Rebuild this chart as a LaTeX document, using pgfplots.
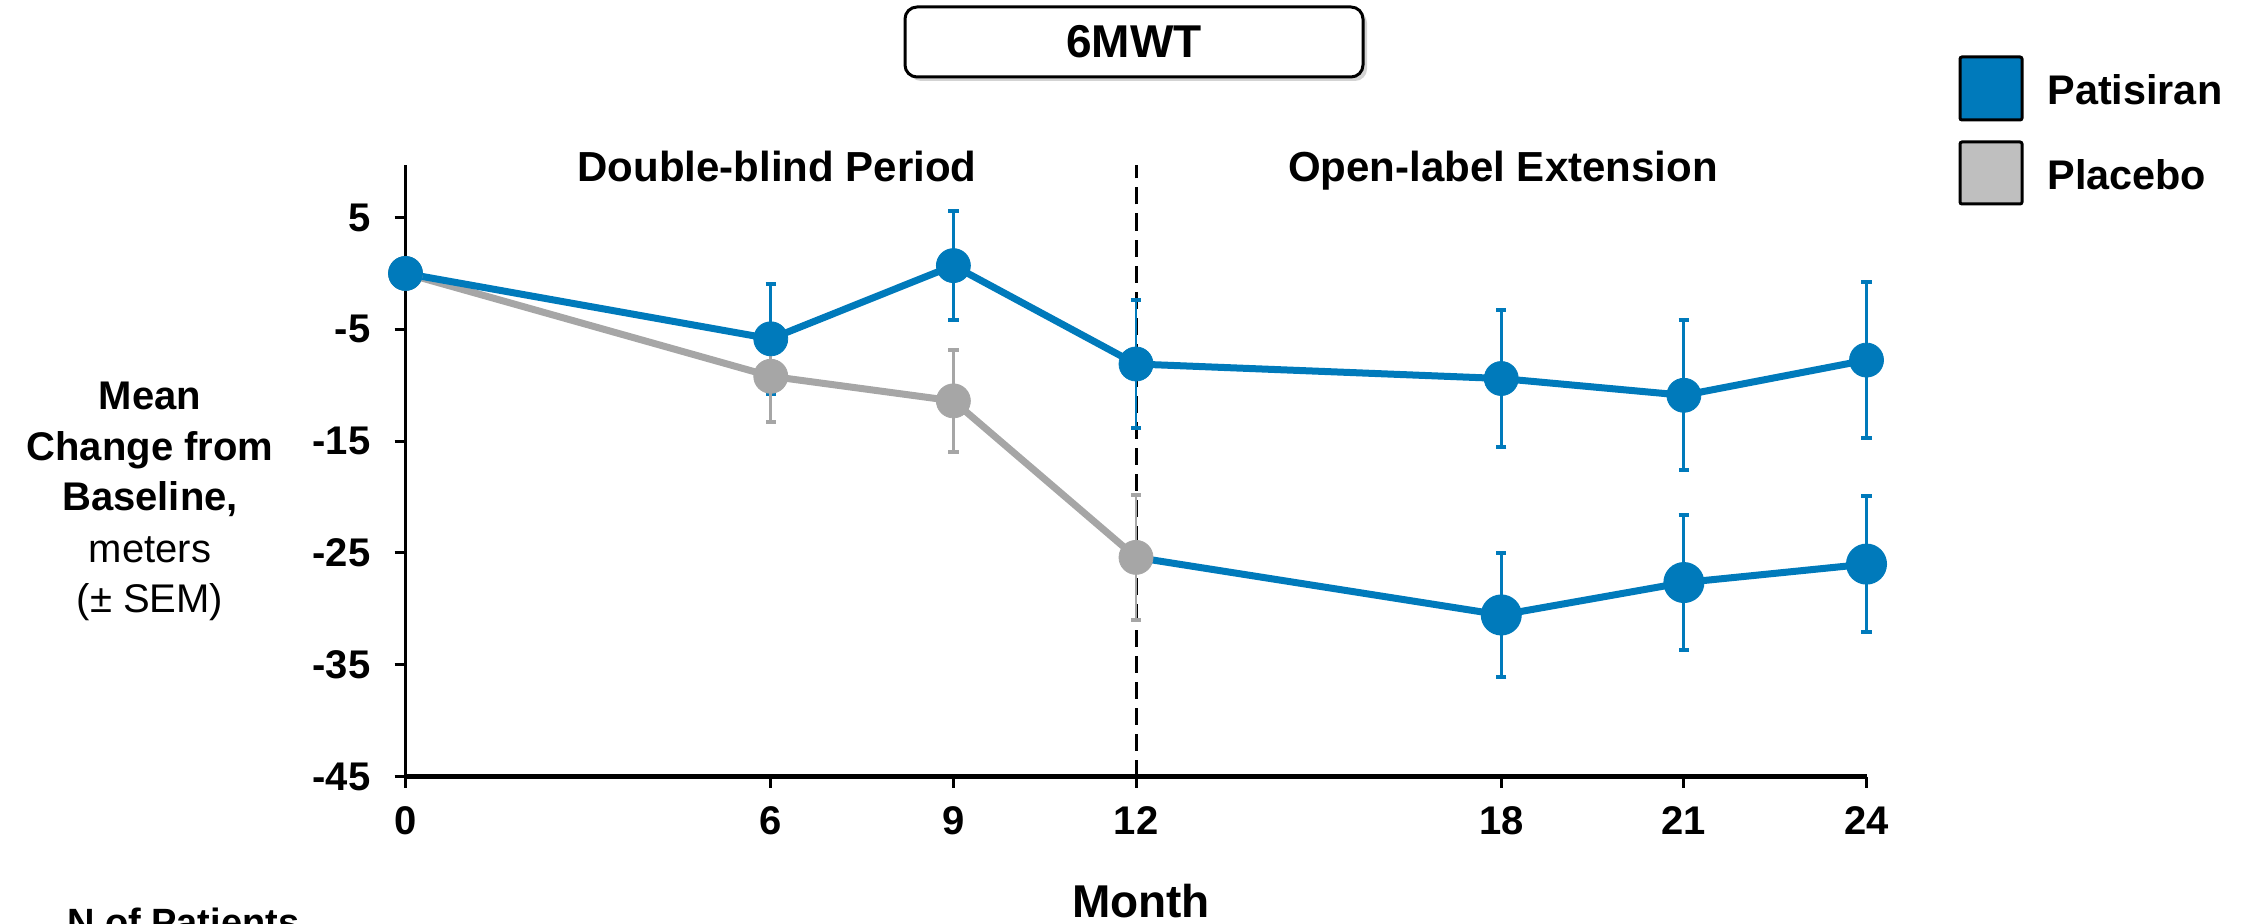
\documentclass[border=0pt]{standalone}
\usepackage{pgfplots}
\pgfplotsset{compat=1.18}
\usepackage{pgfplotstable}
\usepackage{fontspec}
\setmainfont{Liberation Sans}
\usetikzlibrary{shadows}
\definecolor{pblue}{RGB}{0,122,187}
\definecolor{pgray}{RGB}{166,166,166}
\definecolor{lgray}{RGB}{191,191,191}

\pgfplotstableread{
x y e
0 0 0
6 -5.85 4.9
9 0.7 4.85
12 -8.1 5.7
18 -9.4 6.1
21 -10.9 6.7
24 -7.75 6.95
}\patisiran

\pgfplotstableread{
x y e
0 0 0
6 -9.2 4.1
9 -11.4 4.57
12 -25.4 5.6
}\placebo

\pgfplotstableread{
x y e
12 -25.4 0
18 -30.55 5.55
21 -27.65 6.05
24 -26.0 6.1
}\crossover

\begin{document}
\begin{tikzpicture}[x=0.5pt,y=0.5pt]
\useasboundingbox (0,0) rectangle (2248,923);
\begin{scope}
\clip (0,0) rectangle (2248,923);
\begin{axis}[
  at={(202.75pt,73.25pt)}, anchor=south west,
  scale only axis, width=730.5pt, height=305.75pt,
  xmin=0, xmax=24, ymin=-45, ymax=9.7,
  axis x line=bottom, axis y line=left,
  axis line style={-, line width=1.5pt, black},
  x axis line style={line width=2.2pt},
  xtick={0,6,9,12,18,21,24}, xticklabels={0,6,9,12,18,21,24},
  ytick={5,-5,-15,-25,-35,-45}, yticklabels={5,-5,-15,-25,-35,-45},
  tick align=outside, major tick length=5.5pt,
  tick style={black, line width=1.5pt},
  ticklabel style={font=\bfseries\fontsize{20}{24}\selectfont},
  xticklabel style={yshift=-6pt},
  yticklabel style={xshift=-8.5pt},
  clip=false,
]
\draw[dash pattern=on 8.5pt off 4.5pt, line width=1.5pt] (axis cs:12,-45) -- (axis cs:12,9.7);
% placebo line only
\addplot[pgray, line width=3.5pt, no markers, forget plot] table[x=x,y=y] {\placebo};
% crossover (placebo -> patisiran)
\addplot[pblue, line width=3.5pt, mark=*, mark size=8.5pt, mark indices={2,3,4},
  mark options={fill=pblue, draw=none},
  error bars/.cd, y dir=both, y explicit, error mark=|,
  error bar style={line width=1.4pt, pblue},
  error mark options={line width=2pt, mark size=2.6pt, pblue}]
  table[x=x,y=y,y error=e] {\crossover};
% patisiran line + error bars
\addplot[pblue, line width=3.5pt, no markers,
  error bars/.cd, y dir=both, y explicit, error mark=|,
  error bar style={line width=1.4pt, pblue},
  error mark options={line width=2pt, mark size=2.6pt, pblue}]
  table[x=x,y=y,y error=e] {\patisiran};
% placebo markers + error bars
\addplot[pgray, only marks, mark=*, mark size=8.5pt,
  mark options={fill=pgray, draw=none},
  error bars/.cd, y dir=both, y explicit, error mark=|,
  error bar style={line width=1.4pt, pgray},
  error mark options={line width=2pt, mark size=2.6pt, pgray}]
  table[x=x,y=y,y error=e] {\placebo};
% patisiran markers
\addplot[pblue, only marks, mark=*, mark size=8.5pt,
  mark options={fill=pblue, draw=none}]
  table[x=x,y=y] {\patisiran};
\end{axis}

% period labels
\node[anchor=base, font=\bfseries\fontsize{21}{25}\selectfont] at (777,741) {Double-blind Period};
\node[anchor=base, font=\bfseries\fontsize{21}{25}\selectfont] at (1503,741) {Open-label Extension};

% y label
\node[anchor=base, font=\bfseries\fontsize{20}{24}\selectfont] at (150,514) {Mean};
\node[anchor=base, font=\bfseries\fontsize{20}{24}\selectfont] at (150,463) {Change from};
\node[anchor=base, font=\bfseries\fontsize{20}{24}\selectfont] at (150,413) {Baseline,};
\node[anchor=base, font=\fontsize{20}{24}\selectfont] at (150,361) {meters};
\node[anchor=base, font=\fontsize{20}{24}\selectfont] at (150,311) {(± SEM)};

% x label
\node[anchor=base, font=\bfseries\fontsize{23}{27}\selectfont] at (1141,6) {Month};
\node[anchor=base west, font=\bfseries\fontsize{19}{23}\selectfont] at (60,-12) {N of Patients};

% title box
\node[draw=black, line width=1.5pt, rounded corners=6pt, fill=white,
  minimum width=229pt, minimum height=35pt,
  drop shadow={shadow xshift=2pt, shadow yshift=-2pt, opacity=0.35},
  font=\bfseries\fontsize{23}{27}\selectfont] at (1134,881) {6MWT};

% legend
\draw[fill=pblue, line width=1.5pt, rounded corners=1pt] (1960,866) rectangle (2022,803);
\draw[fill=lgray, line width=1.5pt, rounded corners=1pt] (1960,781) rectangle (2022,719);
\node[anchor=base west, font=\bfseries\fontsize{20.7}{25}\selectfont, inner sep=0pt] at (2047,818) {Patisiran};
\node[anchor=base west, font=\bfseries\fontsize{20.7}{25}\selectfont, inner sep=0pt] at (2047,733) {Placebo};
\end{scope}
\end{tikzpicture}
\end{document}
